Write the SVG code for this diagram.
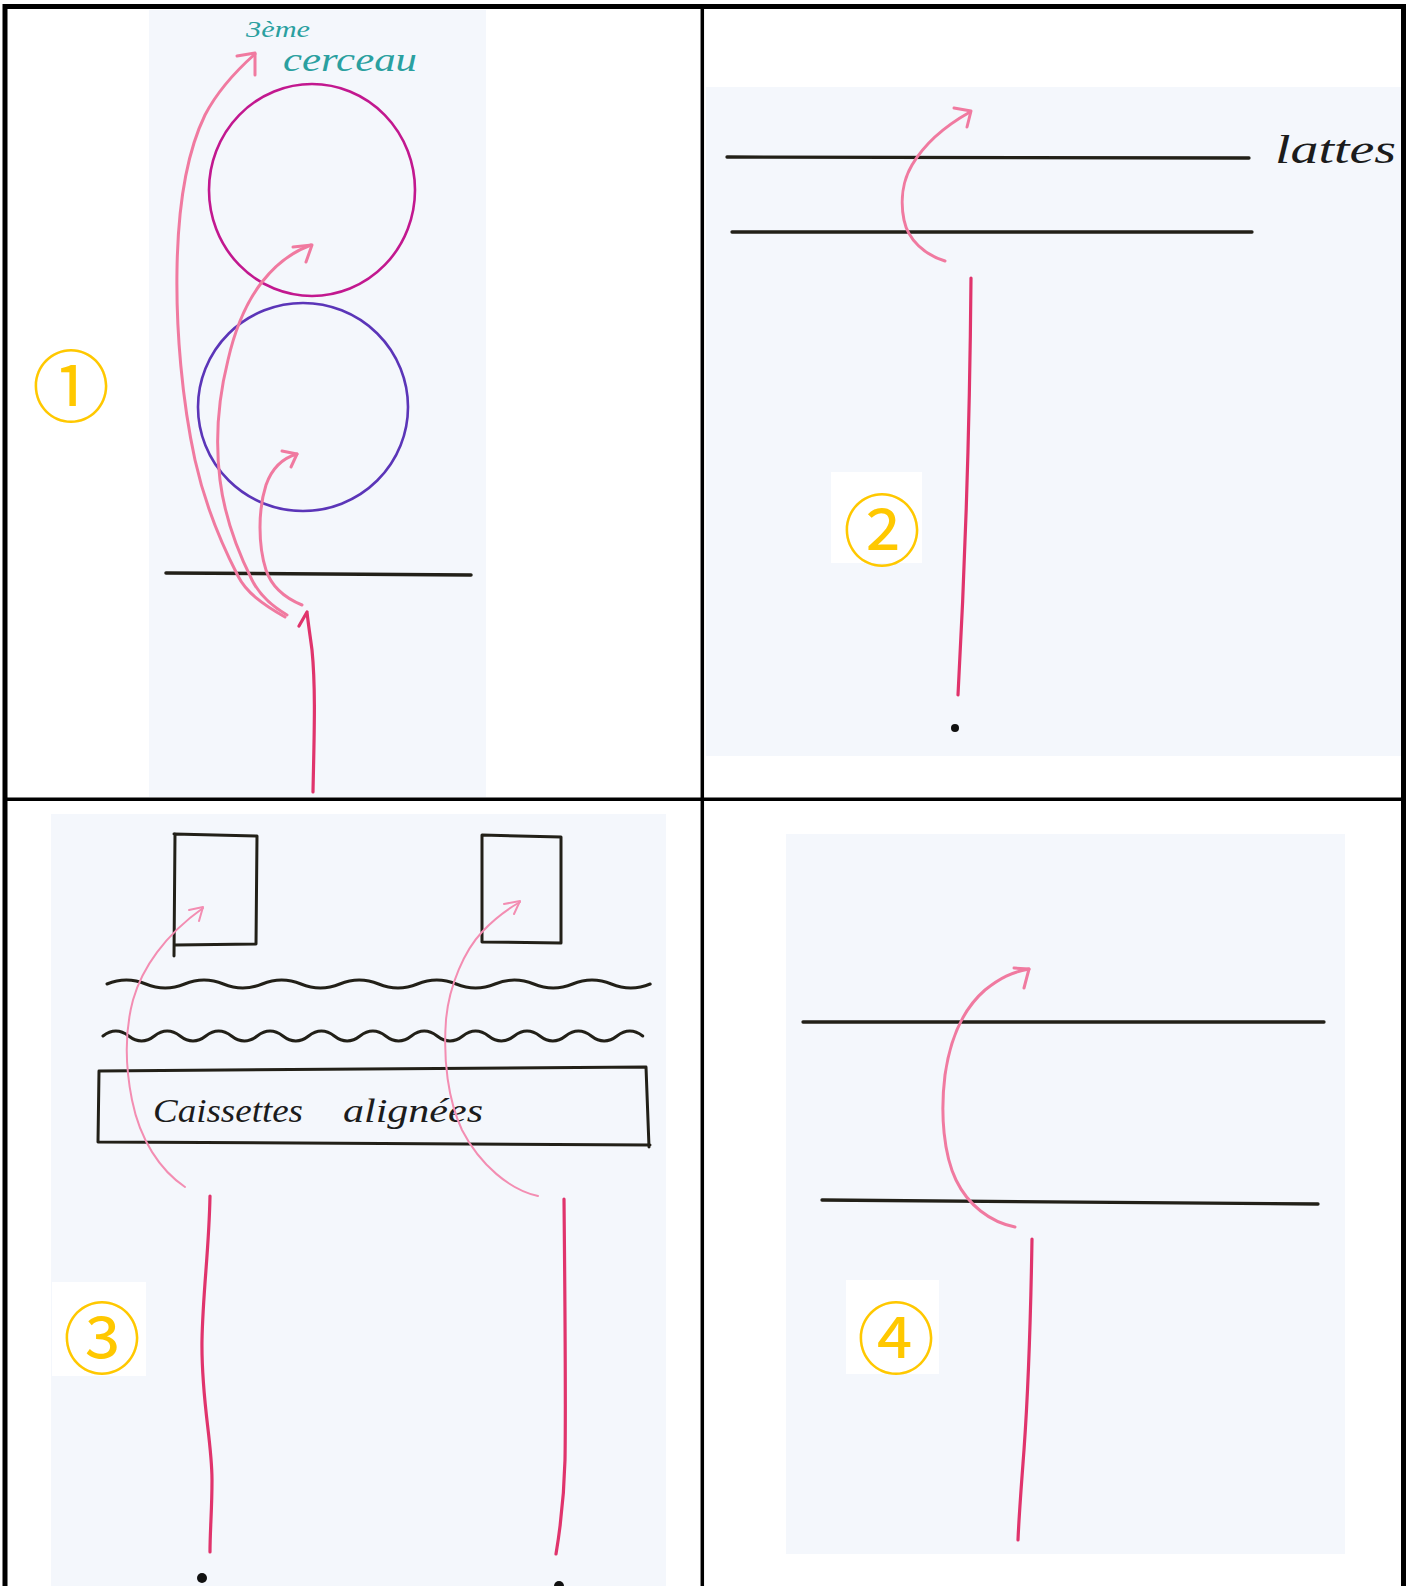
<svg xmlns="http://www.w3.org/2000/svg" width="1412" height="1586" viewBox="0 0 1412 1586">
<style>
.scan{fill:#f4f7fc}
.patch{fill:#ffffff}
.grid{stroke:#000;fill:none}
.ink{stroke:#222018;fill:none;stroke-linecap:round;stroke-linejoin:round}
.pink{stroke:#f07aa0;fill:none;stroke-width:3;stroke-linecap:round;stroke-linejoin:round}
.pinkthin{stroke:#f38db2;fill:none;stroke-width:2;stroke-linecap:round;stroke-linejoin:round}
.red{stroke:#e0346c;fill:none;stroke-width:3.2;stroke-linecap:round;stroke-linejoin:round}
.num{font-family:"Noto Sans CJK JP","DejaVu Sans",sans-serif;font-size:78px;fill:#FFC800;text-anchor:middle;dominant-baseline:central}
.hand{font-family:"Liberation Serif",serif;font-style:italic;fill:#1c1c1c}
.teal{font-family:"Liberation Serif",serif;font-style:italic;fill:#2aa0a0}
.dot{fill:#111}
</style>

<g id="backgrounds">
<rect class="scan" x="149" y="10" width="337" height="787"/>
<rect class="scan" x="706" y="87" width="695" height="669"/>
<rect class="scan" x="51" y="814" width="615" height="772"/>
<rect class="scan" x="786" y="834" width="559" height="720"/>
<rect class="patch" x="831" y="472" width="91" height="91"/>
<rect class="patch" x="52" y="1282" width="94" height="94"/>
<rect class="patch" x="846" y="1280" width="93" height="94"/>
</g>

<g id="grid">
<line class="grid" x1="3" y1="6.5" x2="1406" y2="6.5" stroke-width="5"/>
<line class="grid" x1="5" y1="4" x2="5" y2="1586" stroke-width="5"/>
<line class="grid" x1="1403.5" y1="4" x2="1403.5" y2="1586" stroke-width="5"/>
<line class="grid" x1="702.3" y1="4" x2="702.3" y2="1586" stroke-width="3.5"/>
<line class="grid" x1="5" y1="799.3" x2="1403" y2="799.3" stroke-width="3.5"/>
</g>

<!-- Panel 1 -->
<g id="label-1"><text class="num" x="71" y="382">①</text></g>
<g id="hoop-top"><ellipse cx="312" cy="190" rx="103" ry="106" fill="none" stroke="#c2188f" stroke-width="2.6"/></g>
<g id="hoop-bottom"><ellipse cx="303" cy="407" rx="105" ry="104" fill="none" stroke="#5b35b8" stroke-width="2.6"/></g>
<g id="line-1"><line class="ink" x1="166" y1="573" x2="471" y2="575" stroke-width="3.5"/></g>
<g id="label-cerceau">
<text class="teal" x="246" y="37" font-size="24" textLength="64" lengthAdjust="spacingAndGlyphs">3ème</text>
<text class="teal" x="283" y="71" font-size="34" textLength="134" lengthAdjust="spacingAndGlyphs">cerceau</text>
</g>

<!-- Panel 2 -->
<g id="label-2"><text class="num" x="882" y="526">②</text></g>
<g id="latte-1"><line class="ink" x1="727" y1="157" x2="1249" y2="158" stroke-width="3.3"/></g>
<g id="latte-2"><line class="ink" x1="732" y1="232" x2="1252" y2="232" stroke-width="3.3"/></g>
<g id="label-lattes"><text class="hand" x="1275" y="163" font-size="40" textLength="121" lengthAdjust="spacingAndGlyphs">lattes</text></g>
<g id="start-2"><circle class="dot" cx="955" cy="728" r="4"/></g>

<!-- Panel 3 -->
<g id="label-3"><text class="num" x="102" y="1334">③</text></g>
<g id="box-1"><path class="ink" stroke-width="3" d="M174,834 L257,836 L256,944 L175,945 M175,834 L174,956"/></g>
<g id="box-2"><path class="ink" stroke-width="3" d="M482,835 L561,837 L561,943 L482,942 Z"/></g>
<g id="wave-1"><path class="ink" stroke-width="3" d="M107,984 q19.4,-8 38.8,0 t38.8,0 t38.8,0 t38.8,0 t38.8,0 t38.8,0 t38.8,0 t38.8,0 t38.8,0 t38.8,0 t38.8,0 t38.8,0 t38.8,0 t38.8,0"/></g>
<g id="wave-2"><path class="ink" stroke-width="3" d="M103,1036 q12.8,-10 25.7,0 t25.7,0 t25.7,0 t25.7,0 t25.7,0 t25.7,0 t25.7,0 t25.7,0 t25.7,0 t25.7,0 t25.7,0 t25.7,0 t25.7,0 t25.7,0 t25.7,0 t25.7,0 t25.7,0 t25.7,0 t25.7,0 t25.7,0 t25.7,0"/></g>
<g id="caissettes">
<path class="ink" stroke-width="3" d="M99,1071 L646,1067 L649,1147 M99,1071 L98,1142 L650,1145"/>
<text class="hand" y="1122" font-size="34"><tspan x="153" textLength="150" lengthAdjust="spacingAndGlyphs">Caissettes</tspan> <tspan x="343" textLength="140" lengthAdjust="spacingAndGlyphs">alignées</tspan></text>
</g>
<g id="start-3a"><circle class="dot" cx="202" cy="1578" r="5"/></g>
<g id="start-3b"><circle class="dot" cx="559" cy="1586" r="5"/></g>

<!-- Panel 4 -->
<g id="label-4"><text class="num" x="896" y="1334">④</text></g>
<g id="bar-1"><line class="ink" x1="803" y1="1022" x2="1324" y2="1022" stroke-width="3.3"/></g>
<g id="bar-2"><line class="ink" x1="822" y1="1200" x2="1318" y2="1204" stroke-width="3.3"/></g>

<g id="connectors">
<!-- panel 1 -->
<path class="pink" d="M285,617 C262,604 246,592 238,576 C222,545 205,505 195,460 C182,400 176,330 177,270 C178,200 188,150 205,115 C218,90 237,70 255,54"/>
<path class="pink" d="M237,56 L255,53 L255,75"/>
<path class="pink" d="M287,615 C268,604 258,592 252,580 C238,552 225,520 220,480 C215,440 218,400 228,360 C236,325 248,300 262,282 C276,264 292,252 311,245"/>
<path class="pink" d="M293,247 L312,245 L306,262"/>
<path class="pink" d="M302,605 C285,598 272,588 266,570 C258,545 258,510 266,485 C272,468 283,458 297,454"/>
<path class="pink" d="M282,451 L297,454 L291,467"/>
<path class="red" d="M313,792 C314,740 316,690 312,650 C310,635 308,622 307,612 M299,626 L307,612"/>
<!-- panel 2 -->
<path class="pink" d="M945,261 C925,255 908,240 904,220 C900,200 903,180 912,165 C922,148 938,130 970,112"/>
<path class="pink" d="M954,108 L971,111 L967,127"/>
<path class="red" d="M971,278 C970,400 966,550 958,695"/>
<!-- panel 3 -->
<path class="pinkthin" d="M185,1187 C160,1170 140,1140 132,1100 C125,1065 125,1030 133,1000 C142,968 165,935 203,908"/>
<path class="pinkthin" d="M189,910 L203,907 L199,921"/>
<path class="pinkthin" d="M538,1196 C510,1190 480,1165 462,1130 C448,1100 443,1060 446,1020 C449,985 465,950 482,932 C495,918 506,910 520,902"/>
<path class="pinkthin" d="M504,904 L520,901 L514,914"/>
<path class="red" stroke-width="2.6" d="M210,1196 C209,1250 203,1290 202,1340 C201,1400 212,1440 212,1480 C212,1510 210,1530 210,1552"/>
<path class="red" stroke-width="2.4" d="M564,1199 C565,1300 566,1400 565,1460 C564,1500 560,1530 556,1554"/>
<!-- panel 4 -->
<path class="pink" d="M1015,1227 C990,1222 968,1205 956,1180 C944,1155 940,1115 945,1075 C950,1040 962,1010 985,990 C1000,978 1012,972 1029,969"/>
<path class="pink" d="M1014,968 L1029,969 L1024,988"/>
<path class="red" stroke-width="3.6" d="M1032,1239 C1031,1300 1029,1380 1024,1450 C1021,1490 1019,1515 1018,1540"/>
</g>
</svg>
